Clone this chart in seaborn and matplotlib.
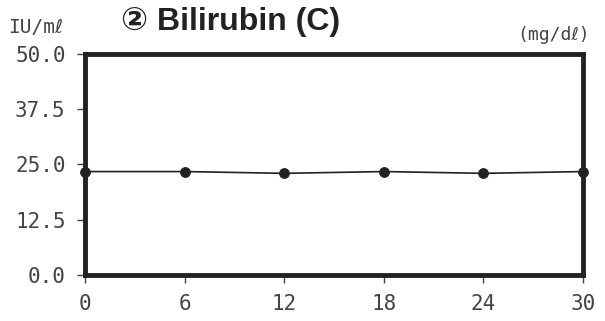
import pandas as pd
import seaborn as sns
import matplotlib.pyplot as plt

# Data
days = [0, 6, 12, 18, 24, 30]
bilirubin = [23.4, 23.4, 23.0, 23.4, 23.0, 23.4]
y_ticks = [0.0, 12.5, 25.0, 37.5, 50.0]
x_ticks = [0, 6, 12, 18, 24, 30]

df = pd.DataFrame({"day": days, "value": bilirubin})

sns.set_style("white")
plt.rcParams["font.family"] = ["DejaVu Sans", "Noto Sans CJK JP"]

fig = plt.figure(figsize=(6.05, 3.21), dpi=100)
ax = fig.add_axes([0.1405, 0.1433, 0.8231, 0.6885])

sns.lineplot(data=df, x="day", y="value", ax=ax, color="#222222",
             linewidth=1.2, marker="o", markersize=7,
             markeredgecolor="#222222", clip_on=False)

ax.set_xlim(0, 30)
ax.set_ylim(0, 50)
ax.set_xticks(x_ticks)
ax.set_yticks(y_ticks)
ax.set_yticklabels([f"{v:.1f}" for v in y_ticks])
ax.set_xlabel("")
ax.set_ylabel("")
for lab in ax.get_xticklabels() + ax.get_yticklabels():
    lab.set_fontfamily("DejaVu Sans Mono")
    lab.set_fontsize(15)
    lab.set_color("#444444")
ax.tick_params(axis="both", direction="out", length=6, width=1,
               color="#444444", left=True, bottom=True)
ax.tick_params(axis="y", pad=8)
ax.tick_params(axis="x", pad=8)

for s in ax.spines.values():
    s.set_linewidth(3.5)
    s.set_color("#222222")

fig.text(0.200, 0.932, "② Bilirubin (C)", fontsize=23, fontweight="bold",
         color="#222222", ha="left", va="center",
         family=["Liberation Sans", "DejaVu Sans"])
fig.text(0.013, 0.913, "IU/mℓ", fontsize=14, color="#444444",
         ha="left", va="center", family=["DejaVu Sans Mono", "DejaVu Sans"])
fig.text(0.975, 0.891, "(mg/dℓ)", fontsize=13, color="#444444",
         ha="right", va="center", family=["DejaVu Sans Mono", "DejaVu Sans"])

fig.savefig("out.png", dpi=100)
